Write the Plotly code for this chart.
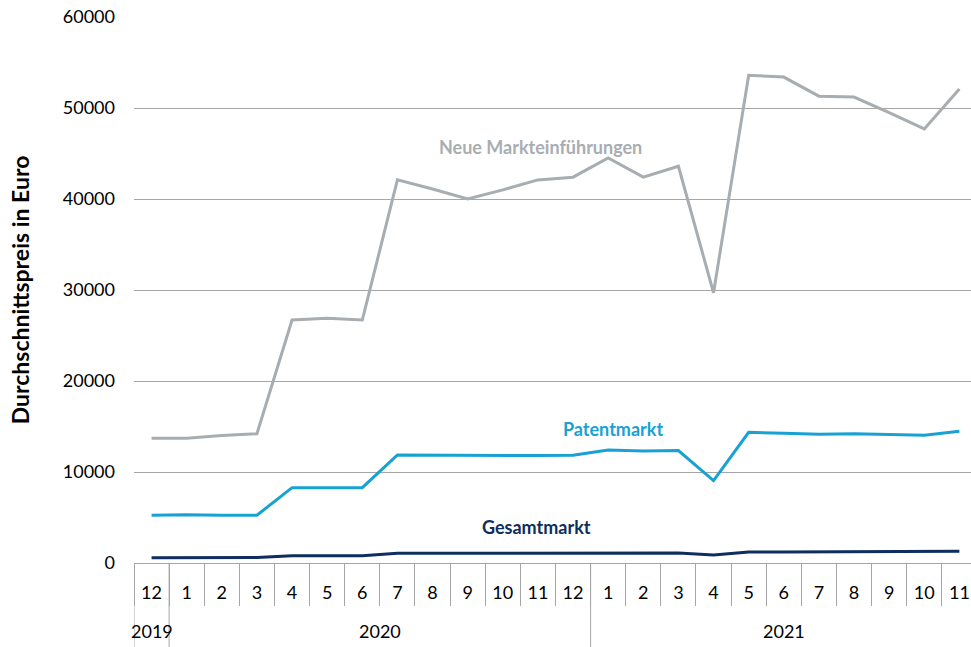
"""Durchschnittspreis je Monat: Neue Markteinführungen, Patentmarkt, Gesamtmarkt."""

import plotly.graph_objects as go

YEARS = ["2019"] + ["2020"] * 12 + ["2021"] * 11
MONTHS = ["12"] + [str(m) for m in range(1, 13)] + [str(m) for m in range(1, 12)]

NEUE_MARKTEINFUEHRUNGEN = [
    13700, 13700, 14000, 14200, 26700, 26900, 26700, 42100, 41100, 40000,
    41000, 42100, 42400, 44500, 42400, 43600, 29700, 53600, 53400, 51300,
    51200, 49500, 47700, 52100,
]
PATENTMARKT = [
    5240, 5300, 5250, 5250, 8280, 8280, 8280, 11870, 11850, 11850,
    11850, 11800, 11850, 12420, 12300, 12350, 9050, 14360, 14250, 14150,
    14200, 14150, 14030, 14470,
]
GESAMTMARKT = [
    590, 600, 600, 600, 800, 800, 800, 1060, 1060, 1080,
    1080, 1090, 1090, 1100, 1100, 1100, 880, 1210, 1220, 1230,
    1230, 1230, 1240, 1290,
]
Y_TICKS = [0, 10000, 20000, 30000, 40000, 50000, 60000]

GRAU = "#A8ADB2"
BLAU = "#17A2D3"
NAVY = "#0F2D5E"
LINIE = "#A6A6A6"
FONT = "Lato, 'Open Sans', sans-serif"

# eindeutige Kategorien, beschriftet nur mit dem Monat
cats = [f"{m}/{y}" for y, m in zip(YEARS, MONTHS)]

fig = go.Figure()
for values, color, name in [
    (NEUE_MARKTEINFUEHRUNGEN, GRAU, "Neue Markteinführungen"),
    (PATENTMARKT, BLAU, "Patentmarkt"),
    (GESAMTMARKT, NAVY, "Gesamtmarkt"),
]:
    fig.add_trace(
        go.Scatter(
            x=cats,
            y=values,
            mode="lines",
            name=name,
            line=dict(color=color, width=3),
            hovertemplate="%{y:.0f} €<extra>" + name + "</extra>",
        )
    )

# direkte Beschriftung der Linien
for text, color, xi, yv in [
    ("Neue Markteinführungen", GRAU, 11.07, 45700),
    ("Patentmarkt", BLAU, 13.15, 14700),
    ("Gesamtmarkt", NAVY, 10.95, 3960),
]:
    fig.add_annotation(
        x=xi,
        y=yv,
        text=f"<b>{text}</b>",
        showarrow=False,
        font=dict(family=FONT, size=18, color=color),
    )

# Jahresgruppen unter der Monatsachse
bottom = -84 / 546
years_order = list(dict.fromkeys(YEARS))
for yr in years_order:
    idx = [i for i, y in enumerate(YEARS) if y == yr]
    fig.add_annotation(
        x=(idx[0] + idx[-1]) / 2,
        y=-81 / 546,
        xref="x",
        yref="paper",
        text=yr,
        showarrow=False,
        font=dict(family=FONT, size=18, color="#000000"),
    )
    fig.add_shape(
        type="line",
        xref="x",
        yref="paper",
        x0=idx[0] - 0.5,
        x1=idx[0] - 0.5,
        y0=0,
        y1=bottom,
        line=dict(color=LINIE, width=1),
    )

fig.update_layout(
    width=971,
    height=647,
    margin=dict(l=134, r=0, t=17, b=84),
    plot_bgcolor="white",
    paper_bgcolor="white",
    showlegend=False,
    font=dict(family=FONT, size=18, color="#000000"),
)
fig.update_yaxes(
    range=[0, 60000],
    automargin=False,
    tickvals=Y_TICKS,
    ticktext=[str(v) for v in Y_TICKS],
    showgrid=True,
    gridcolor=LINIE,
    gridwidth=1,
    zeroline=False,
    showline=False,
    ticks="",
    ticklabelstandoff=18,
    tickfont=dict(size=18, color="#000000"),
    title=dict(
        text="<b>Durchschnittspreis in Euro</b>",
        font=dict(size=23, color="#000000"),
        standoff=26,
    ),
)
fig.update_xaxes(
    type="category",
    automargin=False,
    range=[-0.5, 23.33],
    tickvals=cats,
    ticktext=MONTHS,
    showgrid=False,
    showline=True,
    linecolor=LINIE,
    linewidth=1,
    ticks="outside",
    tickson="boundaries",
    ticklen=42,
    tickcolor=LINIE,
    ticklabelstandoff=13,
    tickfont=dict(size=18, color="#000000"),
)

fig.write_html(
    "out.html",
    config={"displayModeBar": False},
    post_script="document.body.style.margin = '0';",
)
